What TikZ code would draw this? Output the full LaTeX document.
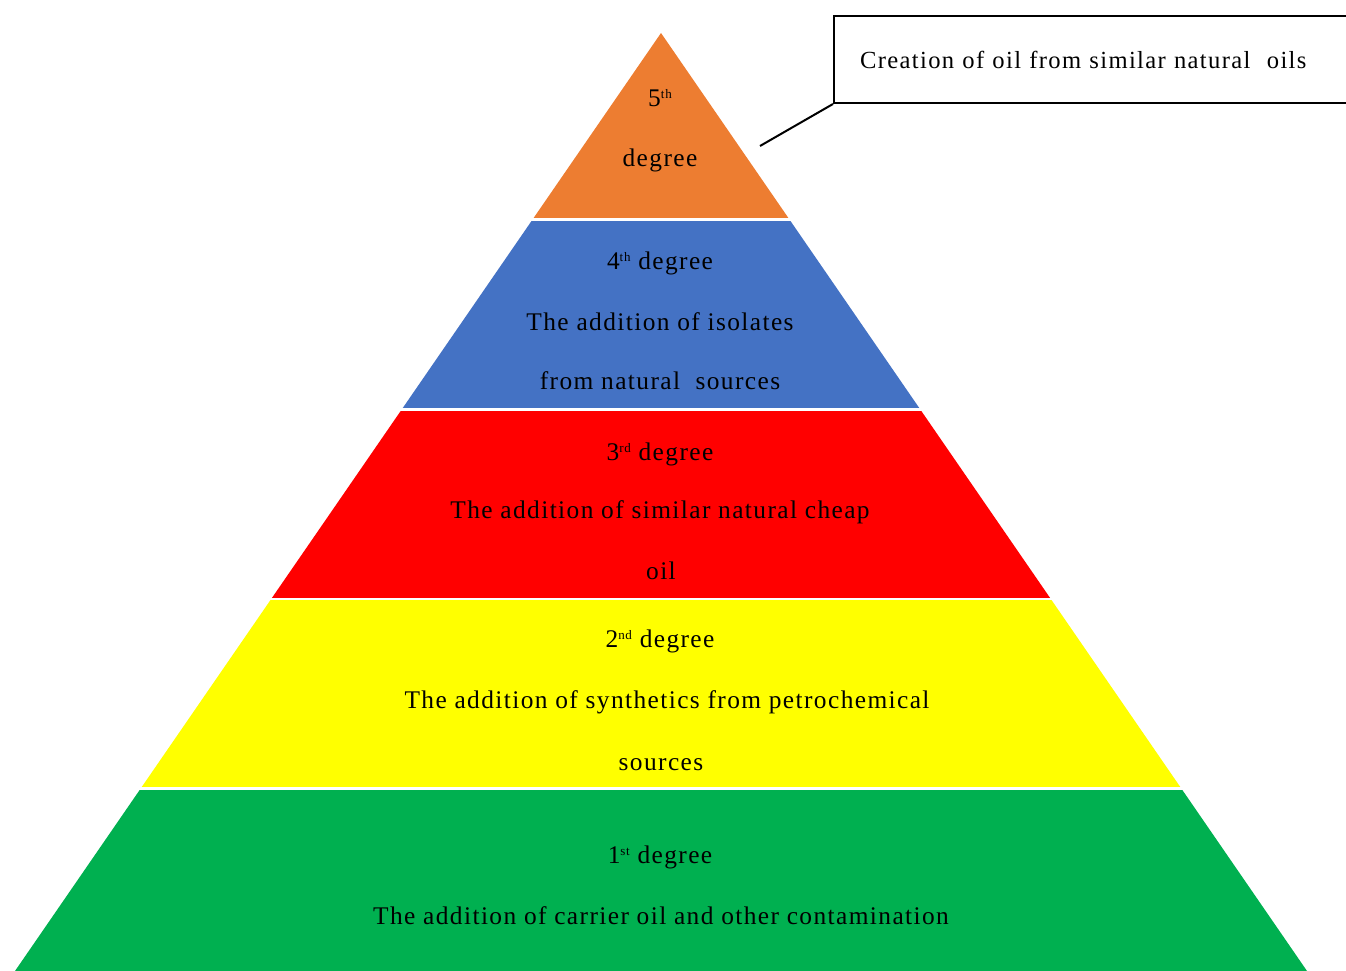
\documentclass[tikz,border=0pt]{standalone}
\usepackage{fontspec}
\setmainfont{Liberation Serif}[LetterSpace=5.5]
\definecolor{tOrange}{HTML}{ED7D31}
\definecolor{tBlue}{HTML}{4472C4}
\definecolor{tRed}{HTML}{FF0000}
\definecolor{tYellow}{HTML}{FFFF00}
\definecolor{tGreen}{HTML}{00B050}
\newcommand{\ordsup}[1]{\raisebox{8pt}{\fontsize{13}{13}\selectfont #1}}
\begin{document}
\begin{tikzpicture}[x=1pt,y=-1pt,
  lbl/.style={anchor=base,inner sep=0pt,font=\fontsize{25.4}{28}\selectfont},
  callout/.style={draw=black,line width=2pt,anchor=north west,minimum width=540pt,minimum height=87pt,
    text width=500pt,align=left,inner xsep=26pt,font=\fontsize{24.6}{28}\selectfont},
  leader/.style={line width=2pt}]
\useasboundingbox (0,0) rectangle (1346,971);
\clip (0,0) rectangle (1346,971);
\coordinate (apex) at (661,33);
\coordinate (bl) at (15,971);
\coordinate (br) at (1307,971);
% tiers
\begin{scope}\clip (0,33) rectangle (1346,217);
 \fill[tOrange] (apex) -- (bl) -- (br) -- cycle;\end{scope}
\begin{scope}\clip (0,221) rectangle (1346,407);
 \fill[tBlue] (apex) -- (bl) -- (br) -- cycle;\end{scope}
\begin{scope}\clip (0,411) rectangle (1346,597);
 \fill[tRed] (apex) -- (bl) -- (br) -- cycle;\end{scope}
\begin{scope}\clip (0,600) rectangle (1346,786);
 \fill[tYellow] (apex) -- (bl) -- (br) -- cycle;\end{scope}
\begin{scope}\clip (0,790) rectangle (1346,980);
 \fill[tGreen] (apex) -- (bl) -- (br) -- cycle;\end{scope}
% labels
\node[lbl] (l5a) at (660,107) {5\ordsup{th}};
\node[lbl] (l5b) at (660,166) {degree};
\node[lbl] (l4a) at (660,269) {4\ordsup{th} degree};
\node[lbl] (l4b) at (660,330) {The addition of isolates};
\node[lbl] (l4c) at (660,389) {from natural\ \ sources};
\node[lbl] (l3a) at (660,460) {3\ordsup{rd} degree};
\node[lbl] (l3b) at (660,518) {The addition of similar natural cheap};
\node[lbl] (l3c) at (661,579) {oil};
\node[lbl] (l2a) at (660,647) {2\ordsup{nd} degree};
\node[lbl] (l2b) at (667,708) {The addition of synthetics from petrochemical};
\node[lbl] (l2c) at (661,770) {sources};
\node[lbl] (l1a) at (660,863) {1\ordsup{st} degree};
\node[lbl] (l1b) at (661,924) {The addition of carrier oil and other contamination};
% callout
\node[callout] (co) at (833,15) {Creation of oil from similar natural\ \ oils};
\coordinate (lead) at (760,146);
\draw[leader] (co.south west) -- (lead);
\end{tikzpicture}
\end{document}
